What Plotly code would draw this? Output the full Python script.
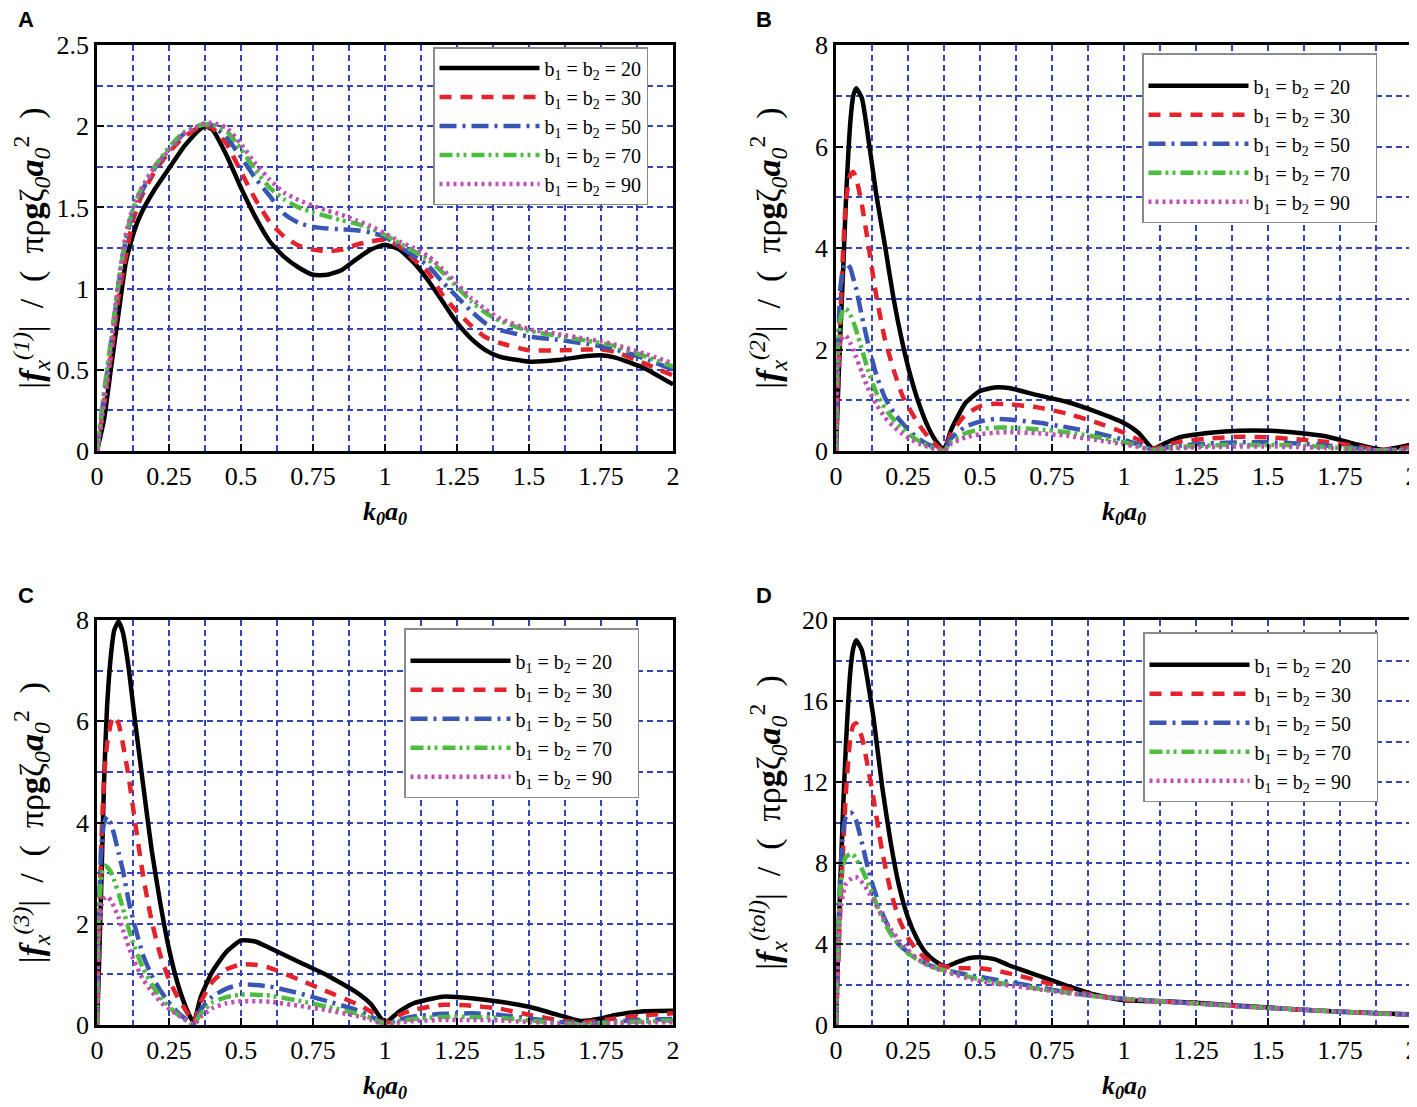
import plotly.graph_objects as go

# ---- data ----
b_labels = ['20', '30', '50', '70', '90']

# Panel A : |f_x^(1)|
xa = [0, 0.025, 0.05, 0.075, 0.1, 0.125, 0.15, 0.2, 0.25, 0.3, 0.35, 0.375, 0.4, 0.45, 0.5,
      0.55, 0.6, 0.65, 0.7, 0.75, 0.8, 0.85, 0.9, 0.95, 1.0, 1.05, 1.1, 1.15, 1.2, 1.25,
      1.3, 1.35, 1.4, 1.5, 1.6, 1.7, 1.75, 1.8, 1.9, 2.0]
a_20 = [0, 0.2, 0.53, 0.85, 1.16, 1.33, 1.45, 1.61, 1.74, 1.87, 1.97, 2.0, 1.98, 1.82, 1.62,
        1.44, 1.29, 1.195, 1.13, 1.085, 1.085, 1.115, 1.18, 1.24, 1.27, 1.24, 1.16, 1.05, 0.92, 0.79,
        0.69, 0.62, 0.58, 0.55, 0.56, 0.585, 0.59, 0.575, 0.51, 0.41]
a_30 = [0, 0.3, 0.6, 0.95, 1.2, 1.42, 1.55, 1.72, 1.84, 1.93, 1.99, 2.0, 1.99, 1.89, 1.72,
        1.55, 1.41, 1.32, 1.265, 1.24, 1.23, 1.24, 1.27, 1.29, 1.3, 1.26, 1.18, 1.1, 0.96, 0.86,
        0.77, 0.7, 0.665, 0.62, 0.62, 0.625, 0.625, 0.61, 0.54, 0.465]
a_50 = [0, 0.35, 0.68, 1.02, 1.3, 1.47, 1.58, 1.74, 1.86, 1.95, 2.0, 2.01, 2.005, 1.93, 1.81,
        1.68, 1.57, 1.46, 1.405, 1.38, 1.37, 1.365, 1.36, 1.345, 1.32, 1.26, 1.2, 1.14, 1.04, 0.95,
        0.86, 0.785, 0.745, 0.705, 0.685, 0.66, 0.645, 0.625, 0.57, 0.5]
a_70 = [0, 0.37, 0.7, 1.04, 1.32, 1.49, 1.6, 1.75, 1.87, 1.96, 2.0, 2.01, 2.01, 1.97, 1.86,
        1.73, 1.62, 1.55, 1.5, 1.47, 1.445, 1.42, 1.4, 1.37, 1.33, 1.28, 1.23, 1.18, 1.1, 1.01,
        0.92, 0.85, 0.8, 0.74, 0.71, 0.68, 0.665, 0.645, 0.585, 0.52]
a_90 = [0, 0.3, 0.65, 1.05, 1.33, 1.5, 1.6, 1.75, 1.85, 1.95, 2.0, 2.02, 2.02, 1.99, 1.89,
        1.77, 1.67, 1.59, 1.545, 1.51, 1.48, 1.455, 1.42, 1.385, 1.34, 1.29, 1.25, 1.2, 1.12, 1.03,
        0.94, 0.87, 0.815, 0.75, 0.72, 0.69, 0.675, 0.655, 0.6, 0.54]

# Panel B : |f_x^(2)|
xb = [0, 0.005, 0.015, 0.025, 0.035, 0.05, 0.06, 0.07, 0.09, 0.11, 0.14, 0.17, 0.2, 0.23,
      0.26, 0.29, 0.32, 0.35, 0.375, 0.4, 0.45, 0.5, 0.55, 0.6, 0.7, 0.8, 0.9, 1.0, 1.05,
      1.1, 1.15, 1.2, 1.3, 1.4, 1.5, 1.6, 1.7, 1.8, 1.9, 1.95, 2.0]
b_20 = [0, 0.8, 2.3, 3.6, 5.0, 6.5, 7.0, 7.15, 6.95, 6.25, 5.05, 4.05, 3.0, 2.15,
        1.45, 0.9, 0.47, 0.17, 0.02, 0.42, 0.95, 1.18, 1.25, 1.24, 1.1, 0.97, 0.78, 0.55, 0.36,
        0.05, 0.17, 0.28, 0.36, 0.4, 0.4, 0.36, 0.29, 0.14, 0.02, 0.07, 0.13]
b_30 = [0, 1.0, 2.6, 4.0, 4.95, 5.45, 5.5, 5.38, 4.85, 4.15, 3.05, 2.2, 1.6, 1.1,
        0.78, 0.5, 0.28, 0.1, 0.01, 0.35, 0.72, 0.88, 0.93, 0.92, 0.86, 0.74, 0.57, 0.36, 0.22,
        0.04, 0.12, 0.19, 0.25, 0.28, 0.27, 0.23, 0.18, 0.1, 0.02, 0.05, 0.08]
b_50 = [0, 1.6, 3.2, 3.6, 3.7, 3.6, 3.4, 3.2, 2.65, 2.15, 1.5, 1.05, 0.76, 0.55,
        0.37, 0.23, 0.13, 0.05, 0.0, 0.25, 0.48, 0.58, 0.63, 0.62, 0.56, 0.47, 0.36, 0.22, 0.13,
        0.03, 0.07, 0.11, 0.15, 0.17, 0.17, 0.15, 0.11, 0.06, 0.01, 0.03, 0.05]
b_70 = [0, 1.8, 2.6, 2.78, 2.8, 2.68, 2.55, 2.38, 2.0, 1.62, 1.15, 0.84, 0.62, 0.44,
        0.3, 0.19, 0.1, 0.04, 0.0, 0.18, 0.35, 0.43, 0.46, 0.46, 0.43, 0.37, 0.28, 0.17, 0.1,
        0.02, 0.05, 0.08, 0.11, 0.12, 0.12, 0.11, 0.08, 0.04, 0.01, 0.02, 0.03]
b_90 = [0, 1.5, 2.15, 2.26, 2.27, 2.12, 2.0, 1.85, 1.55, 1.25, 0.92, 0.66, 0.48, 0.34,
        0.23, 0.14, 0.08, 0.03, 0.0, 0.14, 0.27, 0.33, 0.36, 0.37, 0.35, 0.3, 0.22, 0.13, 0.08,
        0.02, 0.04, 0.06, 0.08, 0.09, 0.09, 0.08, 0.06, 0.03, 0.01, 0.015, 0.02]

# Panel C : |f_x^(3)|
xc = [0, 0.005, 0.015, 0.025, 0.035, 0.05, 0.06, 0.075, 0.09, 0.11, 0.13, 0.16, 0.19, 0.22,
      0.25, 0.28, 0.31, 0.335, 0.36, 0.4, 0.45, 0.5, 0.55, 0.6, 0.7, 0.8, 0.9, 0.95, 1.0,
      1.05, 1.1, 1.2, 1.3, 1.4, 1.5, 1.6, 1.68, 1.75, 1.8, 1.9, 2.0]
c_20 = [0, 0.8, 2.8, 4.9, 6.3, 7.4, 7.8, 7.97, 7.75, 7.05, 6.1, 4.75, 3.45, 2.4,
        1.5, 0.82, 0.33, 0.05, 0.55, 1.05, 1.45, 1.67, 1.65, 1.52, 1.25, 0.98, 0.65, 0.42, 0.05,
        0.27, 0.43, 0.56, 0.53, 0.46, 0.36, 0.2, 0.08, 0.13, 0.2, 0.27, 0.28]
c_30 = [0, 1.2, 3.6, 4.9, 5.55, 6.0, 6.1, 5.95, 5.55, 4.9, 4.1, 2.95, 2.05, 1.38,
        0.9, 0.55, 0.27, 0.05, 0.45, 0.85, 1.1, 1.2, 1.19, 1.13, 0.9, 0.66, 0.42, 0.27, 0.03,
        0.2, 0.3, 0.4, 0.38, 0.32, 0.2, 0.1, 0.05, 0.09, 0.13, 0.19, 0.23]
c_50 = [0, 1.8, 3.55, 4.0, 4.12, 3.95, 3.75, 3.4, 3.05, 2.45, 1.98, 1.38, 0.98, 0.68,
        0.44, 0.25, 0.11, 0.02, 0.3, 0.56, 0.72, 0.8, 0.79, 0.76, 0.63, 0.47, 0.3, 0.18, 0.02,
        0.11, 0.17, 0.22, 0.23, 0.2, 0.13, 0.06, 0.03, 0.05, 0.07, 0.1, 0.12]
c_70 = [0, 2.0, 2.95, 3.15, 3.12, 3.0, 2.85, 2.6, 2.3, 1.9, 1.55, 1.12, 0.8, 0.55,
        0.36, 0.21, 0.09, 0.01, 0.22, 0.44, 0.55, 0.6, 0.6, 0.58, 0.48, 0.36, 0.23, 0.14, 0.02,
        0.08, 0.12, 0.16, 0.16, 0.14, 0.09, 0.04, 0.02, 0.04, 0.05, 0.07, 0.09]
c_90 = [0, 1.7, 2.35, 2.5, 2.54, 2.45, 2.32, 2.12, 1.88, 1.55, 1.25, 0.9, 0.66, 0.46,
        0.32, 0.2, 0.09, 0.0, 0.16, 0.33, 0.43, 0.47, 0.47, 0.46, 0.38, 0.29, 0.18, 0.1, 0.01,
        0.05, 0.08, 0.1, 0.1, 0.09, 0.06, 0.03, 0.01, 0.03, 0.04, 0.05, 0.055]

# Panel D : |f_x^(tol)|
xd = [0, 0.005, 0.015, 0.025, 0.035, 0.05, 0.06, 0.07, 0.09, 0.11, 0.13, 0.16, 0.19, 0.22,
      0.25, 0.28, 0.31, 0.34, 0.38, 0.42, 0.46, 0.5, 0.55, 0.6, 0.7, 0.8, 0.9, 1.0, 1.1,
      1.25, 1.4, 1.5, 1.6, 1.75, 1.9, 2.0]
d_20 = [0, 2.5, 7.0, 10.8, 14.0, 17.5, 18.6, 19.0, 18.5, 17.0, 15.2, 11.8, 9.0, 6.8,
        5.3, 4.3, 3.6, 3.2, 2.88, 3.1, 3.3, 3.35, 3.25, 2.95, 2.45, 1.95, 1.5, 1.22, 1.18,
        1.1, 0.95, 0.87, 0.77, 0.66, 0.57, 0.52]
d_30 = [0, 2.0, 5.8, 8.8, 11.6, 14.2, 14.8, 14.9, 14.2, 12.8, 11.2, 8.6, 6.6, 5.2,
        4.3, 3.7, 3.3, 3.05, 2.88, 2.8, 2.8, 2.8, 2.7, 2.55, 2.2, 1.8, 1.45, 1.25, 1.17,
        1.08, 0.93, 0.85, 0.76, 0.65, 0.56, 0.51]
d_50 = [0, 3.0, 7.5, 9.6, 10.3, 10.5, 10.4, 10.1, 9.0, 7.8, 6.8, 5.55, 4.6, 3.95,
        3.6, 3.3, 3.05, 2.88, 2.72, 2.58, 2.47, 2.38, 2.25, 2.12, 1.88, 1.62, 1.42, 1.3, 1.2,
        1.06, 0.93, 0.85, 0.77, 0.66, 0.56, 0.51]
d_70 = [0, 3.2, 6.8, 7.9, 8.3, 8.45, 8.4, 8.2, 7.7, 7.05, 6.35, 5.3, 4.5, 3.95,
        3.55, 3.25, 3.02, 2.85, 2.68, 2.52, 2.38, 2.25, 2.12, 2.0, 1.8, 1.6, 1.42, 1.3, 1.2,
        1.06, 0.93, 0.85, 0.77, 0.66, 0.56, 0.51]
d_90 = [0, 3.0, 5.6, 6.5, 7.0, 7.2, 7.3, 7.3, 7.05, 6.65, 6.15, 5.4, 4.75, 4.15,
        3.7, 3.3, 3.02, 2.82, 2.63, 2.46, 2.3, 2.17, 2.05, 1.95, 1.77, 1.58, 1.42, 1.3, 1.2,
        1.06, 0.93, 0.85, 0.77, 0.66, 0.56, 0.51]

# ---- styling ----
colors = ['#000000', '#e3222b', '#3a56b5', '#4cbd3e', '#c04fb5']
dashes = ['solid', '12px,9px', '17px,6px,3px,6px', '13px,4px,3px,4px,3px,5px', '3px,4px']
serif = 'Liberation Serif'
grid_col = '#3344bb'
W, H = 1417, 1107
OFF = 8  # the page body adds an 8px margin around the plot div

panels = [
    dict(x=xa, ys=[a_20, a_30, a_50, a_70, a_90], sup='(1)', yr=[0, 2.5], dt=0.5, so=5,
         xd=[97, 673], yd=[45, 451], leg=(433, 47), pad=False, lab='A', lp=(26, 20)),
    dict(x=xb, ys=[b_20, b_30, b_50, b_70, b_90], sup='(2)', yr=[0, 8], dt=2, so=25,
         xd=[836, 1412], yd=[45, 451], leg=(1142, 53), pad=True, lab='B', lp=(764, 20)),
    dict(x=xc, ys=[c_20, c_30, c_50, c_70, c_90], sup='(3)', yr=[0, 8], dt=2, so=25,
         xd=[97, 673], yd=[620, 1025], leg=(404, 628), pad=True, lab='C', lp=(26, 595)),
    dict(x=xd, ys=[d_20, d_30, d_50, d_70, d_90], sup='(tol)', yr=[0, 20], dt=4, so=12,
         xd=[836, 1412], yd=[620, 1025], leg=(1143, 632), pad=True, lab='D', lp=(764, 595)),
]

fig = go.Figure()
layout = {}
annotations = []
sp = '\u2002'

for i, p in enumerate(panels):
    n = '' if i == 0 else str(i + 1)
    leg_name = 'legend' + n
    tail = '\u00a0' * 4 if p['pad'] else ''
    for j in range(5):
        fig.add_trace(go.Scatter(
            x=p['x'], y=p['ys'][j], mode='lines',
            name='b<sub>1</sub> = b<sub>2</sub> = ' + b_labels[j] + tail,
            line=dict(color=colors[j], width=4.5, dash=dashes[j], shape='spline', smoothing=0.5),
            xaxis='x' + n, yaxis='y' + n, legend=leg_name,
        ))

    ytitle = ('|<b><i>f</i></b><sub><i>x</i></sub><sup><i>' + p['sup'] + '</i></sup>|' + sp + '/' + sp +
              '(' + sp + 'πρ<b>g</b>ζ<sub><i>0</i></sub><b><i>a</i></b><sub><i>0</i></sub><sup>2</sup>' + sp + ')')
    grid = dict(showgrid=True, gridcolor=grid_col, gridwidth=1.5, griddash='6px,4px')
    common = dict(showline=True, linecolor='black', linewidth=2.5, mirror=True,
                  ticks='inside', ticklen=7, tickwidth=1.5, tickcolor='black',
                  zeroline=False, automargin=False,
                  tickfont=dict(family=serif, size=26, color='black'), **grid)
    layout['xaxis' + n] = dict(
        common, range=[0, 2], dtick=0.25, anchor='y' + n,
        domain=[(p['xd'][0] - OFF) / W, (p['xd'][1] - OFF) / W],
        minor=dict(dtick=0.125, **grid),
        title=dict(text='<b><i>k</i></b><sub><b><i>0</i></b></sub><b><i>a</i></b><sub><b><i>0</i></b></sub>',
                   font=dict(family=serif, size=26, color='black'), standoff=12),
    )
    layout['yaxis' + n] = dict(
        common, range=p['yr'], dtick=p['dt'], anchor='x' + n,
        domain=[1 - (p['yd'][1] - OFF) / H, 1 - (p['yd'][0] - OFF) / H],
        minor=dict(dtick=p['dt'] / 2, **grid),
        title=dict(text=ytitle, font=dict(family=serif, size=34, color='black'), standoff=p['so']),
    )
    leg = dict(
        x=(p['leg'][0] - OFF) / W, y=1 - (p['leg'][1] - OFF) / H, xanchor='left', yanchor='top',
        bgcolor='white', bordercolor='#8a8a8a', borderwidth=1.5,
        font=dict(family=serif, size=20, color='black'), itemwidth=100,
        tracegroupgap=0,
    )
    if p['pad']:
        leg['title'] = dict(text=' ', font=dict(family=serif, size=9))
    layout[leg_name] = leg
    annotations.append(dict(text='<b>' + p['lab'] + '</b>', xref='paper', yref='paper',
                            x=(p['lp'][0] - OFF) / W, y=1 - (p['lp'][1] - OFF) / H,
                            xanchor='center', yanchor='middle', showarrow=False, borderpad=0,
                            font=dict(family='Liberation Sans', size=22, color='black')))

fig.update_layout(
    width=W, height=H,
    margin=dict(l=0, r=0, t=0, b=0, autoexpand=False),
    paper_bgcolor='white', plot_bgcolor='white',
    showlegend=True, annotations=annotations,
    **layout,
)

fig.write_html('out.html')
